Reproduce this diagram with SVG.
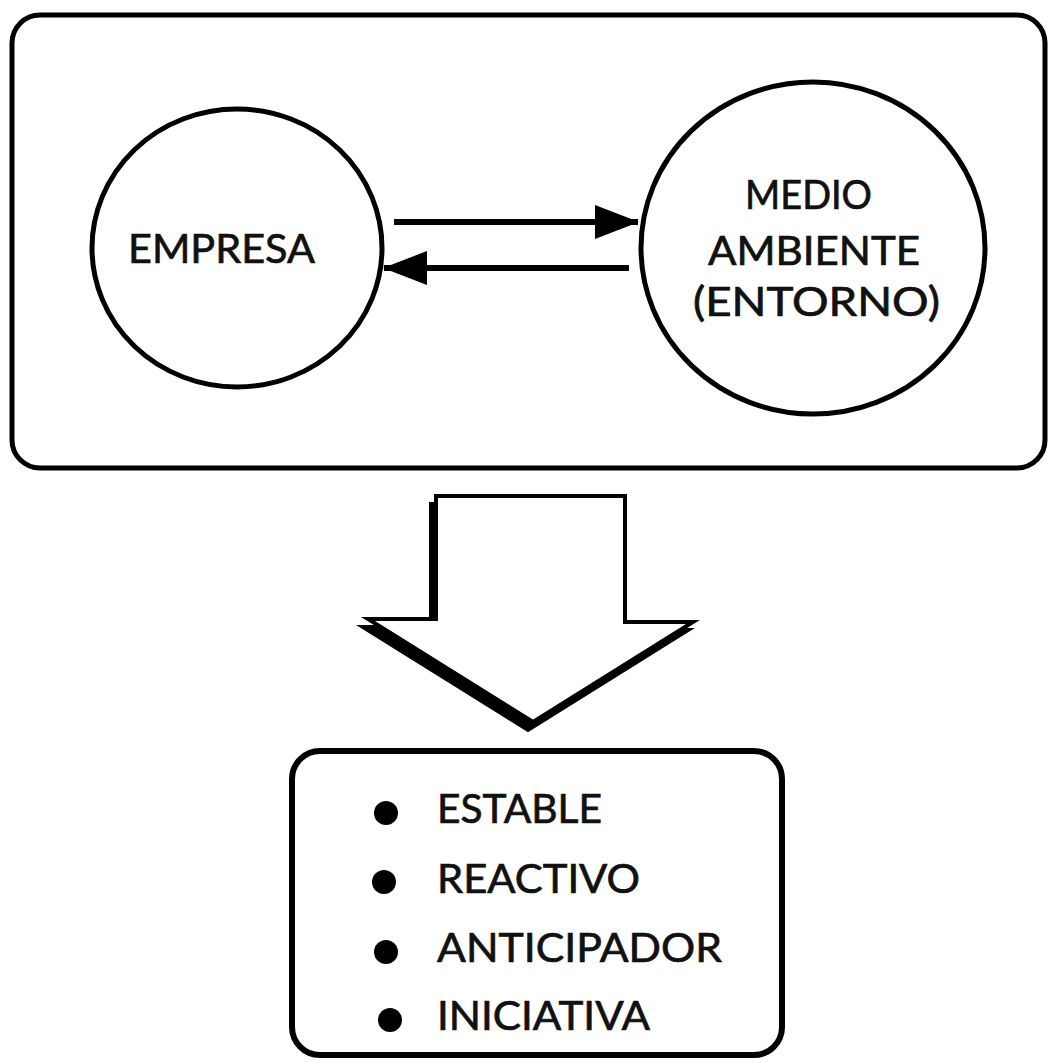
<svg xmlns="http://www.w3.org/2000/svg" width="1048" height="1063" viewBox="0 0 1048 1063">
  <style>
    .frame { fill: #ffffff; stroke: #000000; stroke-width: 5; }
    .ring { fill: #ffffff; stroke: #000000; stroke-width: 5; }
    .label { font-family: Lato, "Liberation Sans", sans-serif; font-size: 40px; fill: #111111; stroke: #111111; stroke-width: 0.7px; }
    .link { stroke: #000000; stroke-width: 6; fill: none; }
    .dot { fill: #000000; }
  </style>
  <defs>
    <marker id="head" markerUnits="userSpaceOnUse" markerWidth="44" markerHeight="34" refX="43" refY="17" orient="auto">
      <polygon points="0,0 44,17 0,34" fill="#000000"/>
    </marker>
  </defs>

  <rect width="1048" height="1063" fill="#ffffff"/>

  <!-- upper panel -->
  <g id="panel-top">
    <rect class="frame" x="12" y="15" width="1033" height="453" rx="28" ry="28"/>
  </g>

  <g id="node-empresa">
    <ellipse class="ring" cx="237" cy="248" rx="145" ry="139"/>
    <text class="label" x="128" y="263" textLength="187" lengthAdjust="spacingAndGlyphs">EMPRESA</text>
  </g>

  <g id="node-medio">
    <ellipse class="ring" cx="813" cy="248" rx="172" ry="166"/>
    <text class="label" x="745" y="209" textLength="127" lengthAdjust="spacingAndGlyphs">MEDIO</text>
    <text class="label" x="708" y="265" textLength="212" lengthAdjust="spacingAndGlyphs">AMBIENTE</text>
    <text class="label" x="693" y="316" textLength="247" lengthAdjust="spacingAndGlyphs">(ENTORNO)</text>
  </g>

  <!-- two-way exchange between the company and its environment -->
  <g id="connectors">
    <line class="link" x1="394" y1="222" x2="638" y2="222" marker-end="url(#head)"/>
    <line class="link" x1="629" y1="268" x2="384" y2="268" marker-end="url(#head)"/>
  </g>

  <!-- big block arrow with drop shadow -->
  <g id="block-arrow">
    <polygon transform="translate(-5,8)" fill="#000000" stroke="#000000" stroke-width="4" stroke-linejoin="miter"
      points="436,496 625,496 625,622 693,622 533,722 368,619 436,619"/>
    <polygon fill="#ffffff" stroke="#000000" stroke-width="4" stroke-linejoin="miter"
      points="436,496 625,496 625,622 693,622 533,722 368,619 436,619"/>
  </g>

  <!-- lower panel: list of behaviours -->
  <g id="node-list">
    <rect class="frame" x="292" y="751" width="490" height="304" rx="28" ry="28" style="stroke-width:6"/>
    <circle class="dot" cx="386" cy="813" r="12"/>
    <circle class="dot" cx="384" cy="882" r="12"/>
    <circle class="dot" cx="386" cy="952" r="12"/>
    <circle class="dot" cx="390" cy="1020" r="12"/>
    <text class="label" x="437" y="823" textLength="165" lengthAdjust="spacingAndGlyphs">ESTABLE</text>
    <text class="label" x="437" y="893" textLength="203" lengthAdjust="spacingAndGlyphs">REACTIVO</text>
    <text class="label" x="437" y="962" textLength="285" lengthAdjust="spacingAndGlyphs">ANTICIPADOR</text>
    <text class="label" x="437" y="1030" textLength="213" lengthAdjust="spacingAndGlyphs">INICIATIVA</text>
  </g>
</svg>
